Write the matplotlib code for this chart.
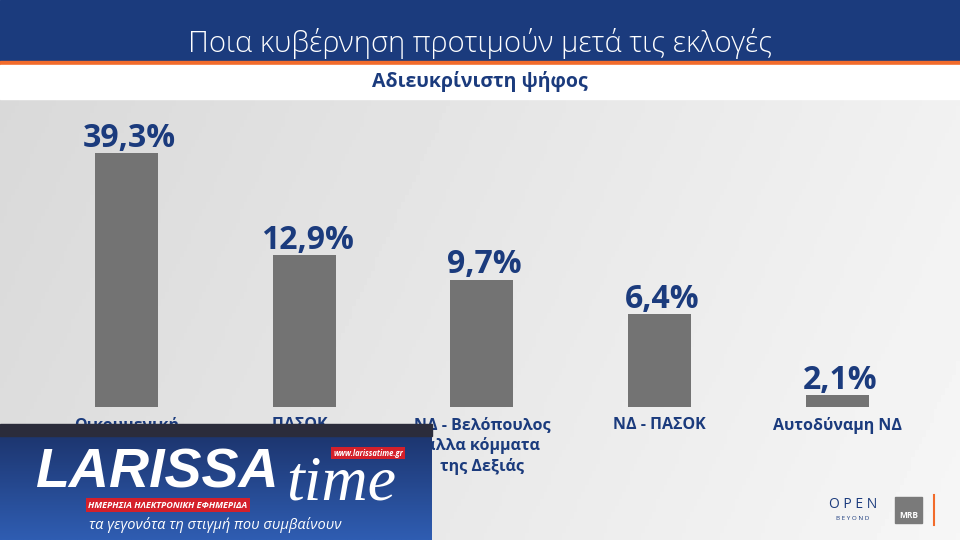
import numpy as np
import matplotlib
matplotlib.use("Agg")
import matplotlib.pyplot as plt
from matplotlib.patches import Rectangle

TITLE = "Ποια κυβέρνηση προτιμούν μετά τις εκλογές"
SUBTITLE = "Αδιευκρίνιστη ψήφος"

categories = ["Οικουμενική", "ΠΑΣΟΚ -", "ΝΔ - Βελόπουλος\nάλλα κόμματα\nτης Δεξιάς",
              "ΝΔ - ΠΑΣΟΚ", "Αυτοδύναμη ΝΔ"]
values = [39.3, 12.9, 9.7, 6.4, 2.1]

NAVY = "#1b3b7d"
ORANGE = "#f26b2b"
BAR_GREY = "#737373"
FONT = ["Open Sans", "DejaVu Sans"]

# the tv graphic does not draw bars linearly, a shifted log scale gets close
SHIFT = 1.2
BASE = 1.71
TOP = 69

W, H = 960, 540
fig = plt.figure(figsize=(9.6, 5.4), dpi=100)


def px_axes(zorder):
    ax = fig.add_axes([0, 0, 1, 1], zorder=zorder)
    ax.set_xlim(0, W)
    ax.set_ylim(H, 0)
    ax.axis("off")
    return ax


# background + header
bg = px_axes(0)
grad = np.linspace(0.86, 0.955, 256)[None, :] * np.ones((64, 1))
grad = grad + np.linspace(-0.01, 0.01, 64)[:, None]
bg.imshow(grad, cmap="gray", vmin=0, vmax=1, extent=(0, W, H, 99), aspect="auto")
bg.add_patch(Rectangle((0, 0), W, 61, color=NAVY))
bg.add_patch(Rectangle((0, 61), W, 4, color=ORANGE))
bg.add_patch(Rectangle((0, 65), W, 34, color="white"))
bg.text(480, 52, TITLE, color="white", fontsize=21, fontweight="light",
        family=FONT, ha="center", va="baseline")
bg.text(480, 87, SUBTITLE, color=NAVY, fontsize=14, fontweight="bold",
        family=FONT, ha="center", va="baseline")

# bars
ax = fig.add_axes([0, 133 / H, 1, 307 / H], zorder=1)
ax.patch.set_alpha(0)
for s in ax.spines.values():
    s.set_visible(False)
ax.set_yscale("function", functions=(lambda v: np.log(np.maximum(v + SHIFT, 1e-9)),
                                      lambda t: np.exp(t) - SHIFT))
x = np.arange(len(values))
ax.bar(x, np.array(values) - BASE, bottom=BASE, width=0.355, color=BAR_GREY)
ax.set_xlim(-0.714, 4.692)
ax.set_ylim(BASE, TOP)
ax.set_xticks([])
ax.set_yticks([])
for xi, v, lab in zip(x, values, categories):
    ax.annotate(f"{v:.1f}".replace(".", ",") + "%", (xi, v), xytext=(2, 4.5),
                textcoords="offset points", ha="center", va="baseline",
                color=NAVY, fontsize=23, fontweight="bold", family=FONT)
    ax.annotate(lab, (xi, BASE), xytext=(0, -7), textcoords="offset points",
                ha="center", va="top", color=NAVY, fontsize=11.5,
                fontweight="bold", family=FONT, linespacing=1.3)

# watermark overlay + logos
ov = px_axes(2)
blue = np.linspace(0, 1, 64)[:, None] * np.ones((1, 64))
cmap = matplotlib.colors.LinearSegmentedColormap.from_list("lt", ["#1d3670", "#2f5db2"])
ov.imshow(blue, cmap=cmap, extent=(0, 432, H, 436), aspect="auto")
ov.add_patch(Rectangle((0, 424), 432, 12, color="#2b2c3b"))
ov.text(35, 487, "LARISSA", color="white", fontsize=40, fontweight="bold",
        style="italic", family=["Liberation Sans", "DejaVu Sans"], va="baseline")
ov.text(286, 500, "time", color="white", fontsize=46, style="italic",
        family=["Liberation Serif", "DejaVu Serif"], va="baseline")
ov.text(368, 453, "www.larissatime.gr", color="white", fontsize=5.5, fontweight="bold",
        style="italic", ha="center", va="center", family=FONT,
        bbox=dict(boxstyle="square,pad=0.25", fc="#d4202a", ec="none"))
ov.text(168, 505, "ΗΜΕΡΗΣΙΑ ΗΛΕΚΤΡΟΝΙΚΗ ΕΦΗΜΕΡΙΔΑ", color="white", fontsize=6.5,
        fontweight="bold", style="italic", ha="center", va="center", family=FONT,
        bbox=dict(boxstyle="square,pad=0.25", fc="#d4202a", ec="none"))
ov.text(215, 525, "τα γεγονότα τη στιγμή που συμβαίνουν", color="white", fontsize=10.5,
        style="italic", ha="center", va="center", family=FONT)

ov.text(853, 505, "O P E N", color=NAVY, fontsize=10, ha="center", va="center", family=FONT)
ov.text(853, 519, "B E Y O N D", color=NAVY, fontsize=4.5, ha="center", va="center", family=FONT)
ov.add_patch(Rectangle((895, 497), 27, 26, color="#7a7a7a"))
ov.text(908.5, 516, "MRB", color="white", fontsize=6, fontweight="bold",
        ha="center", va="center", family=FONT)
ov.plot([934, 934], [495, 525], color=ORANGE, lw=1.5)

fig.savefig("out.png", dpi=100)
